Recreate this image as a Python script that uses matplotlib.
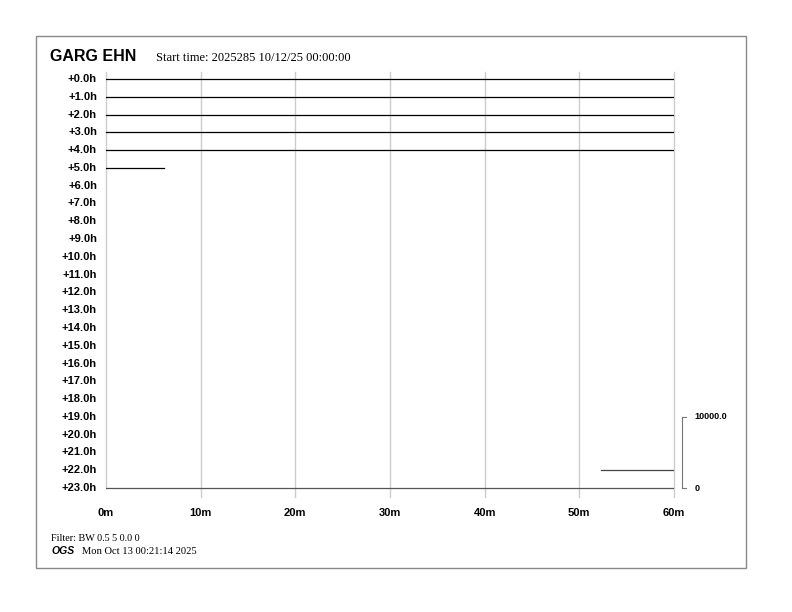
import matplotlib
matplotlib.use("Agg")
import matplotlib.pyplot as plt
from matplotlib.patches import Rectangle

# helicorder rows: one per hour, trace start/end in minutes (None = no data)
hours = list(range(24))
row_labels = ["+%d.0h" % h for h in hours]
seg_start = [0, 0, 0, 0, 0, 0] + [None] * 16 + [52.3, 0]
seg_end = [60, 60, 60, 60, 60, 6.1] + [None] * 16 + [60, 60]
seg_color = ["black"] * 6 + ["black"] * 16 + ["#444444", "#555555"]

minute_ticks = [0, 10, 20, 30, 40, 50, 60]
minute_labels = ["%dm" % m for m in minute_ticks]

station = "GARG EHN"
start_text = "Start time: 2025285 10/12/25 00:00:00"
filter_text = "Filter: BW 0.5 5 0.0 0"
stamp_text = "Mon Oct 13 00:21:14 2025"
scale_labels = ["10000.0", "0"]

W, H = 792, 612
fig = plt.figure(figsize=(W / 100, H / 100), dpi=100)

def fx(px):
    return px / W

def fy(py):
    return 1 - py / H

sans = "Liberation Sans"
serif = "Liberation Serif"

# outer frame
fig.patches.append(Rectangle((fx(36), fy(568)), fx(746) - fx(36), fy(36) - fy(568),
                             transform=fig.transFigure, fill=False,
                             edgecolor="#888888", lw=1.0))

# main trace area
ax = fig.add_axes([fx(106), fy(497), fx(674) - fx(106), fy(72) - fy(497)])
ax.set_xlim(0, 60)
ax.set_ylim(23.506, -0.394)
ax.axis("off")

for m in minute_ticks:
    bottom = 23 if m == 0 else 23.506
    ax.plot([m, m], [-0.394, bottom], color="#cccccc", lw=1.0, zorder=1,
            clip_on=False)

for h in hours:
    if seg_start[h] is None:
        continue
    ax.plot([seg_start[h], seg_end[h]], [h, h], color=seg_color[h], lw=0.9, zorder=2)

for h in hours:
    ax.text(-0.95, h, row_labels[h], ha="right", va="center", fontsize=8,
            fontweight="bold", family=sans)

for m, lab in zip(minute_ticks, minute_labels):
    ax.text(m, 24.42, lab, ha="center", va="center", fontsize=8,
            fontweight="bold", family=sans)

# amplitude scale bar
ax.plot([60.8, 61.3], [19, 19], color="#777777", lw=0.8, clip_on=False)
ax.plot([60.8, 60.8], [19, 23], color="#777777", lw=0.8, clip_on=False)
ax.plot([60.8, 61.3], [23, 23], color="#777777", lw=0.8, clip_on=False)
ax.text(62.2, 19, scale_labels[0], ha="left", va="center", fontsize=6.5,
        fontweight="bold", family=sans, clip_on=False)
ax.text(62.2, 23, scale_labels[1], ha="left", va="center", fontsize=6.5,
        fontweight="bold", family=sans, clip_on=False)

# header and footer text
fig.text(fx(50), fy(61), station, ha="left", va="baseline", fontsize=11.5,
         fontweight="bold", family=sans)
fig.text(fx(156), fy(61), start_text, ha="left", va="baseline", fontsize=9,
         family=serif)
fig.text(fx(51), fy(541), filter_text, ha="left", va="baseline", fontsize=7.3,
         family=serif)
fig.text(fx(51), fy(554), "OGS", ha="left", va="baseline", fontsize=7.5,
         fontweight="bold", fontstyle="italic", family=sans)
fig.text(fx(82), fy(554), stamp_text, ha="left", va="baseline", fontsize=7.6,
         family=serif)

fig.savefig("out.png", dpi=100)
